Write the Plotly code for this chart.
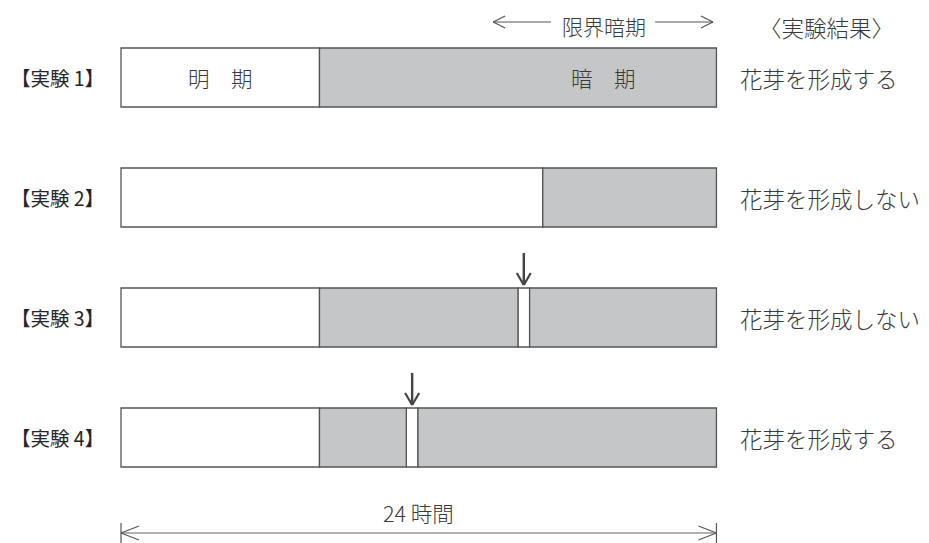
import plotly.graph_objects as go

# ---------------- data ----------------
experiments = ["【実験 1】", "【実験 2】", "【実験 3】", "【実験 4】"]
rows = [1, 2, 3, 4]
results = ["花芽を形成する", "花芽を形成しない", "花芽を形成しない", "花芽を形成する"]

# segments: (row, start hour, duration hour)
light_rows = [1, 2, 3, 3, 4, 4]
light_start = [0, 0, 0, 16.0, 0, 11.5]
light_dur = [8, 17, 8, 0.47, 8, 0.47]

dark_rows = [1, 2, 3, 3, 4, 4]
dark_start = [8, 17, 8, 16.47, 8, 11.97]
dark_dur = [16, 7, 8, 7.53, 3.5, 12.03]

flash_rows = [3, 4]
flash_center = [16.235, 11.735]

day_length = 24
critical_dark = [15.0, 23.86]

# ---------------- style ----------------
PAGE_MARGIN = 8          # default body margin of the html page
W, H = 929, 543          # browser window
PX_PER_H = 24.81
X0_PX = 121              # page px of hour 0
ROW_PX = 120
ROW1_PX = 77.5           # page px of row 1 centre
BAR_W = 59 / ROW_PX

def ypx(px):
    return 1 + (px - ROW1_PX) / ROW_PX

def hx(px):
    return (px - X0_PX) / PX_PER_H

INK = "#3a3a3a"
EDGE = "#555555"
GRAY = "#c5c6c7"
JP = "Noto Sans CJK JP"

fig = go.Figure()
fig.add_trace(go.Bar(y=light_rows, x=light_dur, base=light_start, orientation="h",
                     width=BAR_W, marker=dict(color="white", line=dict(color=EDGE, width=1.3)),
                     hoverinfo="skip", showlegend=False))
fig.add_trace(go.Bar(y=dark_rows, x=dark_dur, base=dark_start, orientation="h",
                     width=BAR_W, marker=dict(color=GRAY, line=dict(color=EDGE, width=1.3)),
                     hoverinfo="skip", showlegend=False))

annotations = []
# left labels
for r, lab in zip(rows, experiments):
    annotations.append(dict(x=hx(9), y=r, text=lab, xanchor="left", yanchor="middle",
                            showarrow=False, font=dict(family=JP, size=19.5, color="#262626", weight=400)))
# results
for r, lab in zip(rows, results):
    annotations.append(dict(x=hx(738), y=r, text=lab, xanchor="left", yanchor="middle",
                            showarrow=False, font=dict(family=JP, size=22.5, color=INK, weight=300)))
# bar texts
annotations.append(dict(x=4, y=1, text="明　期", showarrow=False,
                        font=dict(family=JP, size=21.5, color=INK, weight=300)))
annotations.append(dict(x=19.45, y=1, text="暗　期", showarrow=False,
                        font=dict(family=JP, size=21.5, color=INK, weight=300)))
# headers
annotations.append(dict(x=(critical_dark[0] + critical_dark[1]) / 2 + 0.05, y=ypx(8.5), yanchor="top",
                        text="限界暗期", showarrow=False,
                        font=dict(family=JP, size=21, color=INK, weight=300)))
annotations.append(dict(x=hx(826), y=ypx(8.5), yanchor="top", text="〈実験結果〉", showarrow=False,
                        font=dict(family=JP, size=22.5, color=INK, weight=300)))
annotations.append(dict(x=day_length / 2, y=ypx(512), text="24 時間", showarrow=False,
                        font=dict(family=JP, size=21.5, color=INK, weight=300)))

shapes = []
def line(x0, y0, x1, y1, color=INK, width=1.2):
    shapes.append(dict(type="line", xref="x", yref="y", x0=x0, y0=y0, x1=x1, y1=y1,
                       line=dict(color=color, width=width)))

# critical dark header arrows
yh = ypx(22)
mid = (critical_dark[0] + critical_dark[1]) / 2
ah_x = 12 / PX_PER_H
ah_y = 6 / ROW_PX
line(critical_dark[0], yh, mid - 2.1, yh, color="#555")
line(critical_dark[0], yh, critical_dark[0] + ah_x, yh - ah_y, color="#555")
line(critical_dark[0], yh, critical_dark[0] + ah_x, yh + ah_y, color="#555")
line(mid + 2.1, yh, critical_dark[1], yh, color="#555")
line(critical_dark[1], yh, critical_dark[1] - ah_x, yh - ah_y, color="#555")
line(critical_dark[1], yh, critical_dark[1] - ah_x, yh + ah_y, color="#555")

# bottom 24h dimension
yb = ypx(533)
line(0, yb, day_length, yb, color="#666", width=1.2)
line(0, ypx(523), 0, ypx(543), color="#555", width=1.2)
line(day_length, ypx(523), day_length, ypx(543), color="#555", width=1.2)
bx = 18 / PX_PER_H
by = 7 / ROW_PX
line(0, yb, bx, yb - by, color="#555")
line(0, yb, bx, yb + by, color="#555")
line(day_length, yb, day_length - bx, yb - by, color="#555")
line(day_length, yb, day_length - bx, yb + by, color="#555")

# flash arrows
for r, c in zip(flash_rows, flash_center):
    top = r - BAR_W / 2 - 3 / ROW_PX
    stem_top = r - BAR_W / 2 - 35 / ROW_PX
    line(c, stem_top, c, top, color="#444", width=2.4)
    dx = 7 / PX_PER_H
    dy = 12 / ROW_PX
    line(c, top, c - dx, top - dy, color="#444", width=2.2)
    line(c, top, c + dx, top - dy, color="#444", width=2.2)

FW, FH = W - PAGE_MARGIN, H - PAGE_MARGIN
fig.update_layout(
    width=FW, height=FH, margin=dict(l=0, r=0, t=0, b=0),
    paper_bgcolor="white", plot_bgcolor="white", barmode="overlay",
    xaxis=dict(range=[hx(PAGE_MARGIN), hx(W)], visible=False, fixedrange=True),
    yaxis=dict(range=[ypx(H), ypx(PAGE_MARGIN)], visible=False, fixedrange=True),
    annotations=annotations, shapes=shapes, showlegend=False,
)
fig.write_html("out.html")
